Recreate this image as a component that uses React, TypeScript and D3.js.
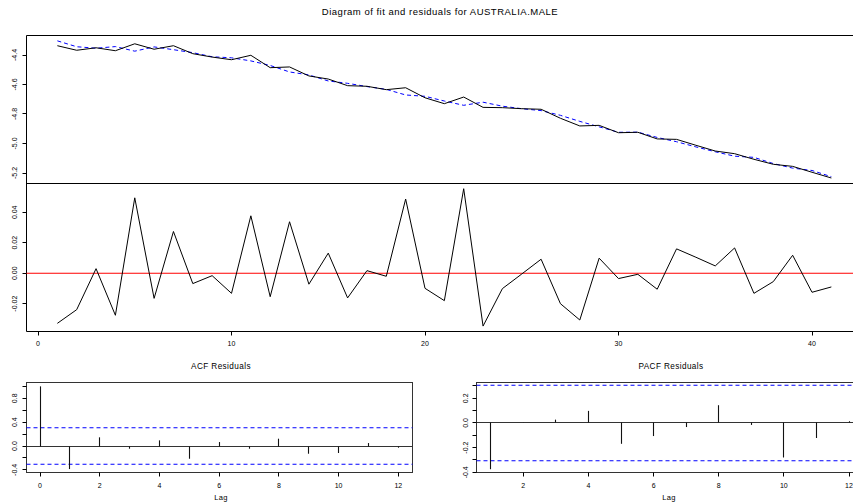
import React from "react";
import * as d3 from "d3";

const TITLE = "Diagram of fit and residuals for AUSTRALIA.MALE";
const years = d3.range(1, 42);
const actual = [-4.337, -4.368, -4.351, -4.371, -4.324, -4.361, -4.337, -4.391, -4.414, -4.432,
  -4.402, -4.486, -4.481, -4.542, -4.563, -4.608, -4.612, -4.635, -4.622, -4.69,
  -4.73, -4.685, -4.755, -4.757, -4.764, -4.768, -4.829, -4.881, -4.877, -4.927,
  -4.924, -4.969, -4.972, -5.012, -5.051, -5.069, -5.107, -5.141, -5.155, -5.195, -5.234];
const fitted = [-4.304, -4.344, -4.354, -4.343, -4.374, -4.345, -4.364, -4.384, -4.412, -4.419,
  -4.44, -4.471, -4.515, -4.535, -4.576, -4.592, -4.614, -4.633, -4.671, -4.68,
  -4.712, -4.741, -4.72, -4.747, -4.764, -4.777, -4.809, -4.85, -4.887, -4.924,
  -4.923, -4.959, -4.988, -5.023, -5.056, -5.086, -5.094, -5.136, -5.167, -5.183, -5.225];
const residuals = [-0.0329, -0.0239, 0.003, -0.0276, 0.0495, -0.0165, 0.0274, -0.0068, -0.0016, -0.0132,
  0.0377, -0.0154, 0.0338, -0.0072, 0.0132, -0.0162, 0.0017, -0.002, 0.0487, -0.0099,
  -0.018, 0.0555, -0.0347, -0.0101, -0.0005, 0.0092, -0.02, -0.0307, 0.0099, -0.0035,
  -0.0007, -0.0105, 0.016, 0.0105, 0.0048, 0.0166, -0.0132, -0.0055, 0.0118, -0.0125, -0.009];
const acfLags = d3.range(0, 13);
const acfValues = [1.0, -0.386, 0.146, -0.045, 0.095, -0.213, 0.067, -0.045, 0.123, -0.129, -0.117, 0.05, -0.028];
const pacfLags = d3.range(1, 13);
const pacfValues = [-0.375, 0.005, 0.027, 0.098, -0.169, -0.106, -0.033, 0.144, -0.016, -0.28, -0.122, 0.014];
const confBound = 0.306;

const topTicks = [-4.4, -4.6, -4.8, -5.0, -5.2];
const midTicks = [0.04, 0.02, 0.0, -0.02];
const xTicks = [0, 10, 20, 30, 40];
const acfYTicks = [1.0, 0.8, 0.6, 0.4, 0.2, 0.0, -0.2, -0.4];
const acfYLabels = [0.8, 0.4, 0.0, -0.4];
const acfXTicks = [0, 2, 4, 6, 8, 10, 12];
const pacfYTicks = [0.3, 0.2, 0.1, 0.0, -0.1, -0.2, -0.3, -0.4];
const pacfYLabels = [0.2, 0.0, -0.2, -0.4];
const pacfXTicks = [2, 4, 6, 8, 10, 12];

const FONT = "'Liberation Sans', Arial, Helvetica, sans-serif";

export default function App() {
  const x = d3.scaleLinear().domain([0, 40]).range([38, 812]);
  const yTop = d3.scaleLinear().domain([-4.4, -5.2]).range([55, 173]);
  const yMid = d3.scaleLinear().domain([0.04, -0.02]).range([212.3, 303.7]);
  const xA = d3.scaleLinear().domain([0, 12]).range([40, 398.3]);
  const yA = d3.scaleLinear().domain([0.8, -0.4]).range([398.3, 469.9]);
  const xP = d3.scaleLinear().domain([2, 12]).range([523.3, 849]);
  const yP = d3.scaleLinear().domain([0.2, -0.4]).range([398.3, 472.3]);

  const lineTop = d3.line<number>().x((_, i) => x(years[i])).y((d) => yTop(d));
  const lineMid = d3.line<number>().x((_, i) => x(years[i])).y((d) => yMid(d));

  const panelL = 26.5, panelR = 870, topT = 35.5, topB = 183.5, midB = 331.5;
  const acfL = 26.5, acfR = 412.5, botT = 382.5, botB = 472.5;
  const pacfL = 476.5, pacfR = 870;
  const tickFont = 7;
  const r = (v: number) => Math.round(v - 0.5) + 0.5;

  return (
    <svg width={853} height={503} style={{ position: "absolute", left: 0, top: 0, background: "#fff" }} fontFamily={FONT}>
      <rect x={0} y={0} width={853} height={503} fill="#fff" />
      <text x={440} y={14.5} fontSize={9.5} letterSpacing={0.5} textAnchor="middle" fill="#000">{TITLE}</text>

      {/* top panel */}
      <line x1={panelL} x2={panelR} y1={topT} y2={topT} stroke="#000" />
      <line x1={panelL} x2={panelR} y1={topB} y2={topB} stroke="#000" />
      <line x1={panelL} x2={panelR} y1={midB} y2={midB} stroke="#000" />
      <line x1={panelL} x2={panelL} y1={topT} y2={midB} stroke="#000" />
      {topTicks.map((t) => (
        <g key={"tt" + t}>
          <line x1={panelL} x2={panelL - 4} y1={r(yTop(t))} y2={r(yTop(t))} stroke="#000" />
          <text transform={`translate(17,${yTop(t)}) rotate(-90)`} fontSize={tickFont} textAnchor="middle" fill="#000">{t.toFixed(1)}</text>
        </g>
      ))}
      <path d={lineTop(fitted) || ""} fill="none" stroke="#0000ff" strokeWidth={1} strokeDasharray="4,3" />
      <path d={lineTop(actual) || ""} fill="none" stroke="#000" strokeWidth={1} />

      {/* middle panel */}
      {midTicks.map((t) => (
        <g key={"mt" + t}>
          <line x1={panelL} x2={panelL - 4} y1={r(yMid(t))} y2={r(yMid(t))} stroke="#000" />
          <text transform={`translate(17,${yMid(t)}) rotate(-90)`} fontSize={tickFont} textAnchor="middle" fill="#000">{t.toFixed(2)}</text>
        </g>
      ))}
      <line x1={panelL} x2={panelR} y1={yMid(0)} y2={yMid(0)} stroke="#ff0000" strokeWidth={1.1} />
      <path d={lineMid(residuals) || ""} fill="none" stroke="#000" strokeWidth={1} />
      {xTicks.map((t) => (
        <g key={"xt" + t}>
          <line x1={r(x(t))} x2={r(x(t))} y1={midB} y2={midB + 4} stroke="#000" />
          <text x={x(t)} y={345.5} fontSize={tickFont} textAnchor="middle" fill="#000">{t}</text>
        </g>
      ))}

      {/* ACF panel */}
      <text x={221} y={369} fontSize={8.2} letterSpacing={0.4} textAnchor="middle" fill="#000">ACF Residuals</text>
      <rect x={acfL} y={botT} width={acfR - acfL} height={botB - botT} fill="none" stroke="#333" strokeWidth={1} />
      <line x1={acfL} x2={acfR} y1={r(yA(0))} y2={r(yA(0))} stroke="#333" />
      {acfYTicks.map((t) => (
        <line key={"ay" + t} x1={acfL} x2={acfL - 4} y1={r(yA(t))} y2={r(yA(t))} stroke="#000" />
      ))}
      {acfYLabels.map((t) => (
        <text key={"al" + t} transform={`translate(17,${yA(t)}) rotate(-90)`} fontSize={tickFont} textAnchor="middle" fill="#000">{t.toFixed(1)}</text>
      ))}
      {acfXTicks.map((t) => (
        <g key={"ax" + t}>
          <line x1={r(xA(t))} x2={r(xA(t))} y1={botB} y2={botB + 4} stroke="#000" />
          <text x={xA(t)} y={487.5} fontSize={tickFont} textAnchor="middle" fill="#000">{t}</text>
        </g>
      ))}
      <line x1={acfL} x2={acfR} y1={yA(confBound)} y2={yA(confBound)} stroke="#0000ff" strokeWidth={1.1} strokeDasharray="4,3" />
      <line x1={acfL} x2={acfR} y1={yA(-confBound)} y2={yA(-confBound)} stroke="#0000ff" strokeWidth={1.1} strokeDasharray="4,3" />
      {acfValues.map((v, i) => (
        <line key={"as" + i} x1={r(xA(acfLags[i]))} x2={r(xA(acfLags[i]))} y1={r(yA(0))} y2={yA(v)} stroke="#111" strokeWidth={1.1} />
      ))}
      <text x={221} y={500} fontSize={7.5} letterSpacing={0.3} textAnchor="middle" fill="#000">Lag</text>

      {/* PACF panel */}
      <text x={671} y={369} fontSize={8.2} letterSpacing={0.4} textAnchor="middle" fill="#000">PACF Residuals</text>
      <rect x={pacfL} y={botT} width={pacfR - pacfL} height={botB - botT} fill="none" stroke="#333" strokeWidth={1} />
      <line x1={pacfL} x2={pacfR} y1={r(yP(0))} y2={r(yP(0))} stroke="#333" />
      {pacfYTicks.map((t) => (
        <line key={"py" + t} x1={pacfL} x2={pacfL - 4} y1={r(yP(t))} y2={r(yP(t))} stroke="#000" />
      ))}
      {pacfYLabels.map((t) => (
        <text key={"pl" + t} transform={`translate(467.5,${yP(t)}) rotate(-90)`} fontSize={tickFont} textAnchor="middle" fill="#000">{t.toFixed(1)}</text>
      ))}
      {pacfXTicks.map((t) => (
        <g key={"px" + t}>
          <line x1={r(xP(t))} x2={r(xP(t))} y1={botB} y2={botB + 4} stroke="#000" />
          <text x={xP(t)} y={487.5} fontSize={tickFont} textAnchor="middle" fill="#000">{t}</text>
        </g>
      ))}
      <line x1={pacfL} x2={pacfR} y1={yP(confBound)} y2={yP(confBound)} stroke="#0000ff" strokeWidth={1.1} strokeDasharray="4,3" />
      <line x1={pacfL} x2={pacfR} y1={yP(-confBound)} y2={yP(-confBound)} stroke="#0000ff" strokeWidth={1.1} strokeDasharray="4,3" />
      {pacfValues.map((v, i) => (
        <line key={"ps" + i} x1={r(xP(pacfLags[i]))} x2={r(xP(pacfLags[i]))} y1={r(yP(0))} y2={yP(v)} stroke="#111" strokeWidth={1.1} />
      ))}
      <text x={669} y={500} fontSize={7.5} letterSpacing={0.3} textAnchor="middle" fill="#000">Lag</text>
    </svg>
  );
}
